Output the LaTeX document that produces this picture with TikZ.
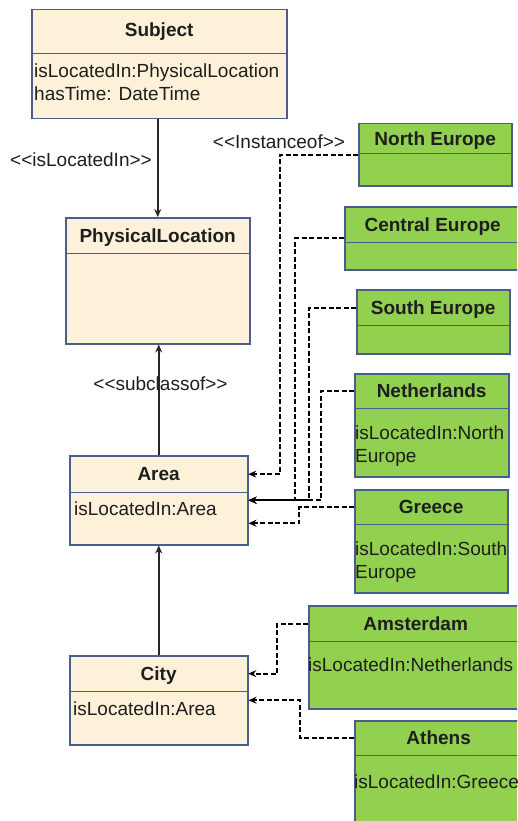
\documentclass[tikz,border=0pt]{standalone}
\usepackage{fontspec}
\setmainfont{Liberation Sans}
\usetikzlibrary{arrows.meta}
\definecolor{cream}{HTML}{FDF1D9}
\definecolor{lgreen}{HTML}{92D050}
\definecolor{boxc}{HTML}{4A5D8C}
\definecolor{txt}{HTML}{1E1E1E}
\tikzset{
  every node/.style={font=\fontsize{19}{23}\selectfont, text=txt},
  cbox/.style={draw=boxc, line width=1.5pt, anchor=north west, inner sep=0pt},
  tbox/.style={draw=boxc, line width=1.3pt, anchor=north west, inner sep=0pt,
    font=\fontsize{19}{23}\selectfont\bfseries, text height=13.6pt, text depth=0pt},
  attr/.style={anchor=base west, inner sep=0pt},
  lbl/.style={anchor=base, inner sep=0pt},
  solidarr/.style={draw=black!85, line width=1.6pt, -{Stealth[length=8pt,width=7pt]}},
  dasharr/.style={draw=black, line width=2pt, dash pattern=on 5pt off 2.5pt, -{Stealth[length=8pt,width=7pt]}},
}
\newcommand{\attrlines}[1]{\begin{tabular}[t]{@{}l@{}}#1\end{tabular}}
\newcommand{\lt}{\mbox{<}}
\newcommand{\gt}{\mbox{>}}
\begin{document}
\begin{tikzpicture}[x=1pt,y=-1pt]
\useasboundingbox (0,0) rectangle (517,821);
\fill[white] (0,0) rectangle (517,821);
\clip (0,0) rectangle (517,821);

% cream classes
\node[cbox, fill=cream, minimum width=255pt, minimum height=109pt] (subject) at (31,9) {};
\node[tbox, minimum width=255pt, minimum height=44pt, yshift=-0pt] (subjectT) at (subject.north west) {\raisebox{1.5pt}{Subject}};
\node[attr] (subjectA) at ([xshift=3pt,yshift=-23pt]subjectT.south west) {\attrlines{isLocatedIn:PhysicalLocation\\hasTime: DateTime}};

\node[cbox, fill=cream, minimum width=184pt, minimum height=126pt] (phys) at (65,217) {};
\node[tbox, minimum width=184pt, minimum height=36pt] (physT) at (phys.north west) {PhysicalLocation};

\node[cbox, fill=cream, minimum width=178pt, minimum height=89pt] (area) at (69,455) {};
\node[tbox, minimum width=178pt, minimum height=37pt] (areaT) at (area.north west) {Area};
\node[attr] (areaA) at ([xshift=5pt,yshift=-22pt]areaT.south west) {isLocatedIn:Area};

\node[cbox, fill=cream, minimum width=178pt, minimum height=89pt] (city) at (69,655) {};
\node[tbox, minimum width=178pt, minimum height=36pt] (cityT) at (city.north west) {City};
\node[attr] (cityA) at ([xshift=4pt,yshift=-23pt]cityT.south west) {isLocatedIn:Area};

% green instances
\node[cbox, fill=lgreen, minimum width=153pt, minimum height=62pt] (north) at (358,123) {};
\node[tbox, minimum width=153pt, minimum height=30pt] (northT) at (north.north west) {North Europe};

\node[cbox, fill=lgreen, minimum width=176pt, minimum height=63pt] (central) at (344,206) {};
\node[tbox, minimum width=176pt, minimum height=36pt] (centralT) at (central.north west) {Central Europe};

\node[cbox, fill=lgreen, minimum width=153pt, minimum height=64pt] (south) at (356,289) {};
\node[tbox, minimum width=153pt, minimum height=36pt] (southT) at (south.north west) {South Europe};

\node[cbox, fill=lgreen, minimum width=154pt, minimum height=103pt] (neth) at (354,373) {};
\node[tbox, minimum width=154pt, minimum height=35pt] (nethT) at (neth.north west) {Netherlands};
\node[attr] (nethA) at ([xshift=1pt,yshift=-30pt]nethT.south west) {\attrlines{isLocatedIn:North\\Europe}};

\node[cbox, fill=lgreen, minimum width=153pt, minimum height=103pt] (greece) at (354,489) {};
\node[tbox, minimum width=153pt, minimum height=35pt] (greeceT) at (greece.north west) {Greece};
\node[attr] (greeceA) at ([xshift=1pt,yshift=-30pt]greeceT.south west) {\attrlines{isLocatedIn:South\\Europe}};

\node[cbox, fill=lgreen, minimum width=214pt, minimum height=103pt] (ams) at (308,605) {};
\node[tbox, minimum width=214pt, minimum height=36pt] (amsT) at (ams.north west) {Amsterdam};
\node[attr] (amsA) at ([xshift=0pt,yshift=-29pt]amsT.south west) {isLocatedIn:Netherlands};

\node[cbox, fill=lgreen, minimum width=168pt, minimum height=120pt] (athens) at (354,720) {};
\node[tbox, minimum width=168pt, minimum height=35pt] (athensT) at (athens.north west) {Athens};
\node[attr] (athensA) at ([xshift=0pt,yshift=-32pt]athensT.south west) {isLocatedIn:Greece};

% solid relations
\draw[solidarr] (subject.south -| phys.north) -- (phys.north);
\draw[solidarr] (area.north) -- (area.north |- phys.south);
\draw[solidarr] (city.north) -- (area.south);

% labels
\node[lbl] (lblLoc) at (81,167) {\lt\lt isLocatedIn\gt\gt};
\node[lbl] (lblInst) at (279,149) {\lt\lt Instanceof\gt\gt};
\node[lbl] (lblSub) at (160.5,390) {\lt\lt subclassof\gt\gt};

% dashed instance-of connectors
\draw[dasharr] (north.west) -- ++(-78,0) |- (areaT.east);
\draw[dasharr] (central.west) -- ++(-49,0) |- (area.east);
\draw[dasharr] (southT.west) -- ++(-47,0) |- (area.east);
\draw[dasharr] (nethT.west) -- ++(-33,0) |- (area.east);
\draw[dasharr] (greeceT.west) -- ++(-55,0) |- ([yshift=-23pt]area.east);
\draw[dasharr] (amsT.west) -- ++(-31,0) |- (cityT.east);
\draw[dasharr] (athensT.west) -- ++(-54,0) |- (city.east);
\end{tikzpicture}
\end{document}
